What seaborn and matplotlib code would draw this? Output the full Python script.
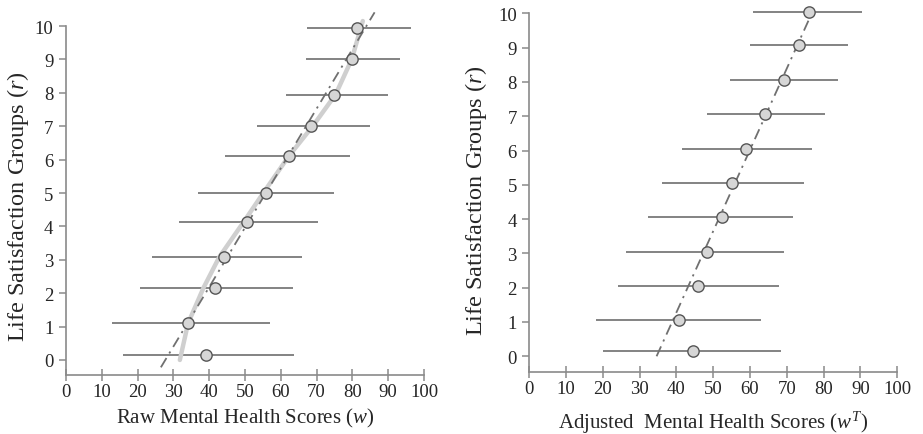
import matplotlib
matplotlib.use("Agg")
import matplotlib.pyplot as plt
import seaborn as sns
import pandas as pd

# ---- data ----
groups = [0, 1, 2, 3, 4, 5, 6, 7, 8, 9, 10]

# raw scores (left panel)
raw_r = [0.16, 1.1, 2.16, 3.08, 4.13, 5.0, 6.1, 7.0, 7.93, 9.0, 9.93]
raw_mean = [39.2, 34.0, 41.7, 44.2, 50.6, 55.8, 62.2, 68.3, 74.8, 79.9, 81.3]
raw_lo = [16.0, 12.9, 20.7, 23.9, 31.6, 37.0, 44.4, 53.4, 61.4, 67.0, 67.2]
raw_hi = [63.7, 57.0, 63.5, 66.0, 70.3, 74.8, 79.4, 84.8, 90.0, 93.3, 96.4]

# smooth grey curve on the left panel
curve_r = [0.0, 1.1, 2.16, 3.08, 4.13, 5.0, 6.1, 7.0, 7.95, 9.0, 10.15]
curve_w = [31.8, 34.1, 38.4, 42.8, 49.6, 55.1, 62.2, 68.9, 75.3, 79.8, 82.9]

# dash-dot reference lines
fit_raw_w = [26.5, 86.2]
fit_raw_r = [-0.22, 10.41]
fit_adj_w = [34.6, 76.5]
fit_adj_r = [0.0, 9.93]

# adjusted scores (right panel)
adj_r = [0.16, 1.07, 2.04, 3.05, 4.05, 5.06, 6.05, 7.06, 8.05, 9.07, 10.05]
adj_mean = [44.5, 40.6, 45.8, 48.4, 52.4, 55.0, 58.9, 64.2, 69.3, 73.3, 76.0]
adj_lo = [19.9, 18.1, 24.1, 26.4, 32.4, 36.1, 41.4, 48.2, 54.7, 59.9, 60.9]
adj_hi = [68.4, 63.0, 67.9, 69.3, 71.7, 74.6, 77.0, 80.4, 83.9, 86.6, 90.6]

xticks = [0, 10, 20, 30, 40, 50, 60, 70, 80, 90, 100]

sns.set_style("ticks")
plt.rcParams["font.family"] = ["Liberation Serif", "DejaVu Serif"]
plt.rcParams["mathtext.fontset"] = "custom"
plt.rcParams["mathtext.rm"] = "Liberation Serif"
plt.rcParams["mathtext.it"] = "Liberation Serif:italic"

SPINE = "#8a8a8a"
BAR = "#6e6e6e"

fig = plt.figure(figsize=(9.23, 4.35), dpi=100)
ax1 = fig.add_axes([0.0715, 0.1356, 0.3879, 0.8345])
ax2 = fig.add_axes([0.5735, 0.1432, 0.3984, 0.8568])


def panel(ax, r, mean, lo, hi, fit_w, fit_r, xlabel, curve=None):
    df = pd.DataFrame({"r": r, "w": mean, "lo": lo, "hi": hi})
    ax.hlines(df["r"], df["lo"], df["hi"], color=BAR, lw=1.2, zorder=2)
    if curve is not None:
        cdf = pd.DataFrame({"w": curve[0], "r": curve[1]})
        sns.lineplot(data=cdf, x="w", y="r", sort=False, orient="y", ax=ax,
                     color="#cfcfcf", lw=3.2, zorder=3, clip_on=False)
    fdf = pd.DataFrame({"w": fit_w, "r": fit_r})
    sns.lineplot(data=fdf, x="w", y="r", sort=False, ax=ax, color="#707070",
                 lw=1.3, linestyle=(0, (6, 3, 1.2, 3)), zorder=4, clip_on=False)
    sns.scatterplot(data=df, x="w", y="r", ax=ax, s=66, color="#d6d6d6",
                    edgecolor="#555555", linewidth=1.0, zorder=5, clip_on=False)

    ax.set_xlim(0, 100)
    ax.set_ylim(-0.45, 10.42)
    ax.set_xticks(xticks)
    ax.set_yticks(groups)
    ax.spines["top"].set_visible(False)
    ax.spines["right"].set_visible(False)
    ax.spines["left"].set_bounds(-0.45, 10)
    for s in ("left", "bottom"):
        ax.spines[s].set_color(SPINE)
        ax.spines[s].set_linewidth(1.2)
    ax.tick_params(axis="x", direction="inout", length=8, width=1.1,
                   color=SPINE, labelsize=13.5, pad=2)
    ax.tick_params(axis="y", direction="out", length=5, width=1.1,
                   color=SPINE, labelsize=13.5, pad=4)
    ax.set_xlabel(xlabel, fontsize=15, va="top")
    ax.set_ylabel("Life Satisfaction Groups ($\\it{r}$)", fontsize=17.5)


panel(ax1, raw_r, raw_mean, raw_lo, raw_hi, fit_raw_w, fit_raw_r,
      "Raw Mental Health Scores ($\\it{w}$)", curve=(curve_w, curve_r))
panel(ax2, adj_r, adj_mean, adj_lo, adj_hi, fit_adj_w, fit_adj_r,
      "Adjusted  Mental Health Scores ($\\it{w}^{\\it{T}}$)")

ax1.xaxis.set_label_coords(0.5, -0.086)
ax2.xaxis.set_label_coords(0.5, -0.1)
ax1.yaxis.set_label_coords(-0.098, 0.468)
ax2.yaxis.set_label_coords(-0.110, 0.463)

fig.savefig("out.png", dpi=100)
